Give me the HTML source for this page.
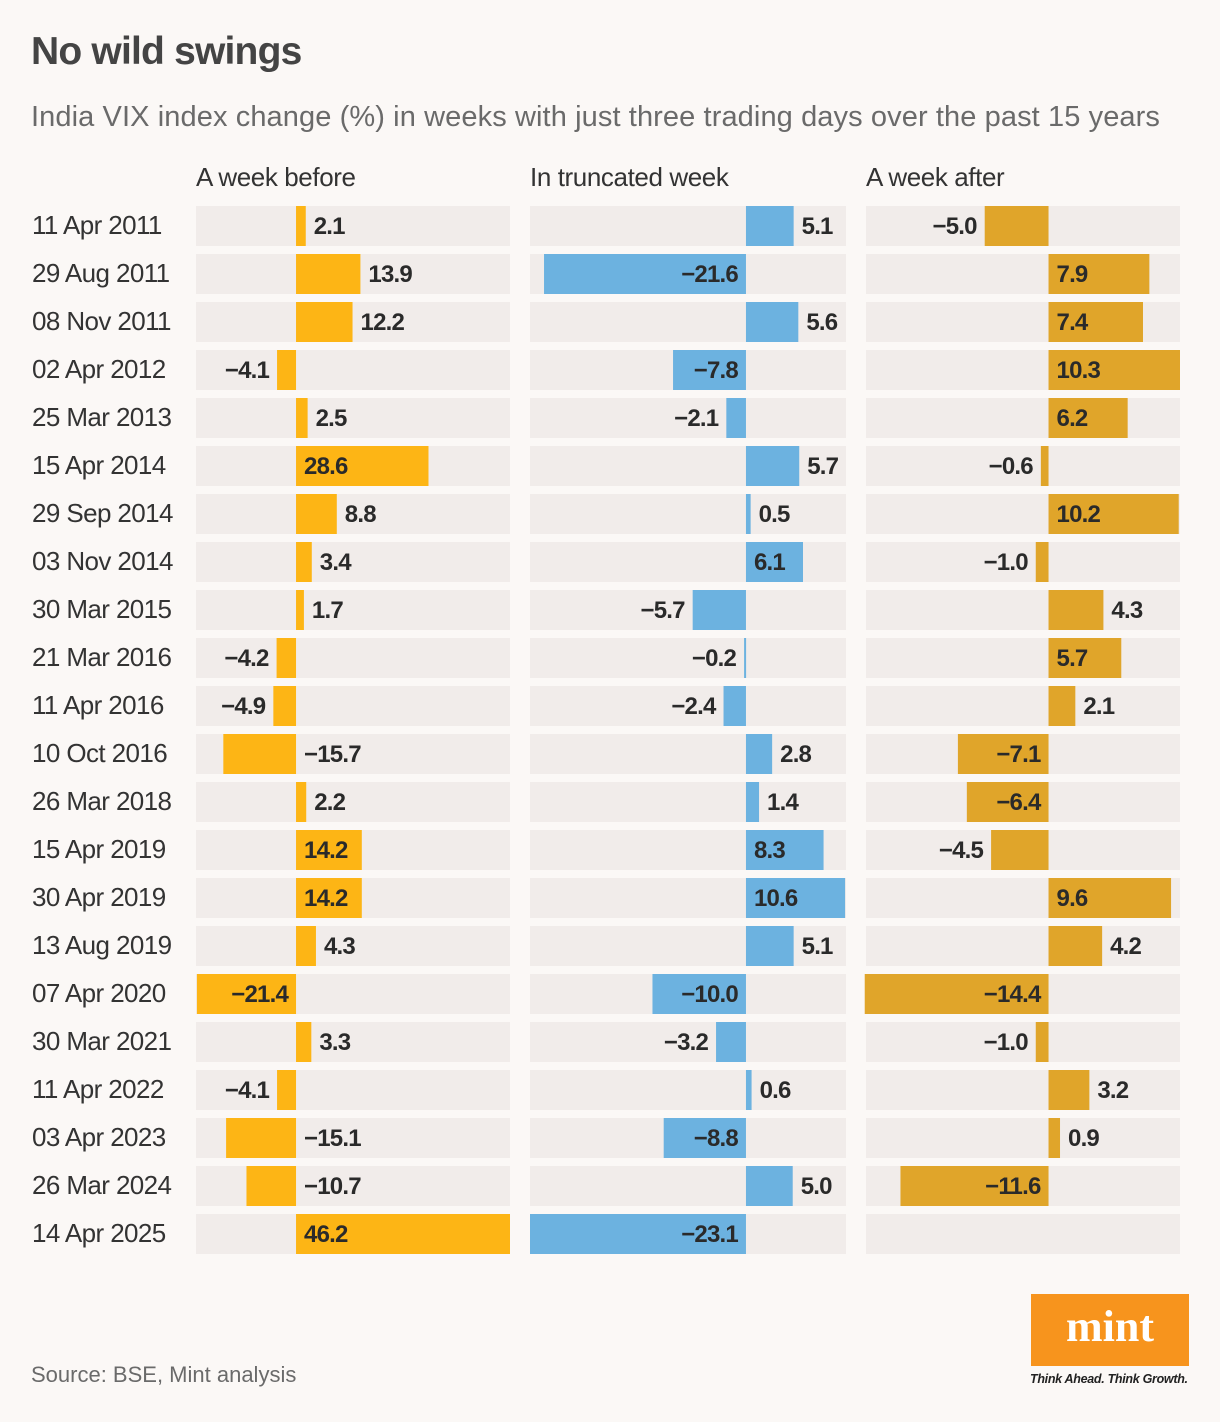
<!DOCTYPE html>
<html><head><meta charset="utf-8">
<style>
html,body{margin:0;padding:0;background:#fbf8f6;}
body{width:1220px;height:1422px;position:relative;overflow:hidden;font-family:"Liberation Sans",sans-serif;}
#title{position:absolute;left:31px;top:30px;font-size:39px;font-weight:bold;color:#444;letter-spacing:-0.8px;margin:0;}
#sub{position:absolute;left:31px;top:101px;font-size:29px;color:#6a6a6a;letter-spacing:0.1px;}
#source{position:absolute;left:31px;top:1362px;font-size:22px;color:#6a6a6a;}
#logo{position:absolute;left:1031px;top:1294px;width:158px;height:72px;background:#f7941d;color:#fff;font-family:"Liberation Serif",serif;font-weight:bold;font-size:44px;text-align:center;line-height:66px;}
#tag{position:absolute;left:1030px;top:1372px;font-size:12.5px;font-style:italic;font-weight:bold;color:#222;letter-spacing:-0.3px;}
svg{position:absolute;left:0;top:0;}
</style></head><body>
<h1 id="title">No wild swings</h1>
<div id="sub">India VIX index change (%) in weeks with just three trading days over the past 15 years</div>
<svg id="chart" width="1220" height="1300"></svg>
<div id="source">Source: BSE, Mint analysis</div>
<div id="logo">mint</div>
<div id="tag">Think Ahead. Think Growth.</div>
<script>
const dates=["11 Apr 2011","29 Aug 2011","08 Nov 2011","02 Apr 2012","25 Mar 2013","15 Apr 2014","29 Sep 2014","03 Nov 2014","30 Mar 2015","21 Mar 2016","11 Apr 2016","10 Oct 2016","26 Mar 2018","15 Apr 2019","30 Apr 2019","13 Aug 2019","07 Apr 2020","30 Mar 2021","11 Apr 2022","03 Apr 2023","26 Mar 2024","14 Apr 2025"];
const weekBefore=[2.1,13.9,12.2,-4.1,2.5,28.6,8.8,3.4,1.7,-4.2,-4.9,-15.7,2.2,14.2,14.2,4.3,-21.4,3.3,-4.1,-15.1,-10.7,46.2];
const truncatedWeek=[5.1,-21.6,5.6,-7.8,-2.1,5.7,0.5,6.1,-5.7,-0.2,-2.4,2.8,1.4,8.3,10.6,5.1,-10.0,-3.2,0.6,-8.8,5.0,-23.1];
const weekAfter=[-5.0,7.9,7.4,10.3,6.2,-0.6,10.2,-1.0,4.3,5.7,2.1,-7.1,-6.4,-4.5,9.6,4.2,-14.4,-1.0,3.2,0.9,-11.6,null];
const headers=["A week before","In truncated week","A week after"];
const NS="http://www.w3.org/2000/svg";
const svg=document.getElementById('chart');
const ctx=document.createElement('canvas').getContext('2d');
ctx.font='bold 24px "Liberation Sans"';
function fmt(v){return (v<0?'\u2212':'')+Math.abs(v).toFixed(1);}
function mk(tag,attrs,parent){const e=document.createElementNS(NS,tag);for(const k in attrs)e.setAttribute(k,attrs[k]);(parent||svg).appendChild(e);return e;}
const panels=[
 {data:weekBefore,x0:196,x1:510,min:-21.6,max:46.2,color:"#fdb515",name:"week-before"},
 {data:truncatedWeek,x0:530,x1:846,min:-23.1,max:10.7,color:"#6cb2e0",name:"truncated-week"},
 {data:weekAfter,x0:866,x1:1180,min:-14.3,max:10.3,color:"#e0a52a",name:"week-after"}
];
const rowY=i=>206+48*i, rowH=40;
dates.forEach((d,i)=>{
 const t=mk('text',{x:32,y:rowY(i)+28,'font-size':26,fill:'#333','letter-spacing':'-0.6'});
 
 
 t.textContent=d;
});
panels.forEach((p,pi)=>{
 const sx=v=>p.x0+(v-p.min)/(p.max-p.min)*(p.x1-p.x0);
 const h=mk('text',{x:p.x0,y:186,'font-size':26,fill:'#333','letter-spacing':'-0.4'});
 
 
 h.textContent=headers[pi];
 const z=sx(0);
 dates.forEach((d,i)=>{
  const y=rowY(i);
  const bg=mk('rect',{x:p.x0,y:y,width:p.x1-p.x0,height:rowH,fill:'#f1ecea'});
  
  
  const v=p.data[i];
  if(v===null||v===undefined)return;
  const xv=sx(v);
  const bx=Math.min(z,xv), bw=Math.max(Math.abs(xv-z),2);
  const bar=mk('rect',{x:bx,y:y,width:bw,height:rowH,fill:p.color});
  
  
  const s=fmt(v), tw=ctx.measureText(s).width;
  const need=Math.max(tw+18.5,56);
  let tx,anchor;
  if(v>=0){
   if(bw>=need){tx=bx+8;anchor='start';} else {tx=bx+bw+8;anchor='start';}
  } else {
   if(bw>=need){tx=z-8;anchor='end';}
   else if(bx-p.x0>=tw+14){tx=bx-8;anchor='end';}
   else {tx=z+8;anchor='start';}
  }
  const t=mk('text',{x:tx,y:y+28,'font-size':24,'font-weight':'bold',fill:'#2a2a2a','text-anchor':anchor,'letter-spacing':'-0.8'});
  
  
  t.textContent=s;
 });
});
</script>
</body></html>
